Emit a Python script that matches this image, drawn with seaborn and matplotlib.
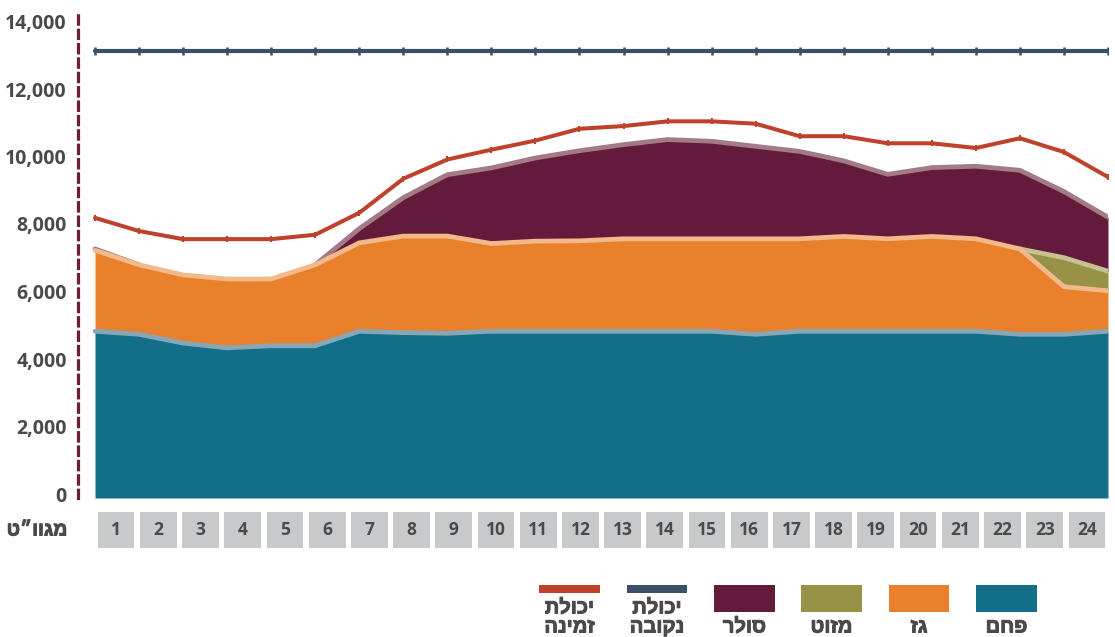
import numpy as np
import matplotlib
matplotlib.use("Agg")
import matplotlib.pyplot as plt
import matplotlib.transforms as mtransforms
import matplotlib.patheffects as pe
from matplotlib.patches import Rectangle
from matplotlib.ticker import FuncFormatter
import seaborn as sns

# ---------------- data ----------------
hours = list(range(1, 25))
coal = [4940, 4850, 4590, 4450, 4510, 4510, 4940, 4900, 4880, 4940, 4940, 4940,
        4940, 4940, 4940, 4850, 4940, 4940, 4940, 4940, 4940, 4850, 4850, 4940]
gas = [2400, 2060, 2020, 2040, 1980, 2400, 2620, 2860, 2880, 2600, 2670, 2680,
       2740, 2740, 2740, 2830, 2740, 2810, 2740, 2810, 2740, 2530, 1410, 1200]
mazut = [0, 0, 0, 0, 0, 0, 0, 0, 0, 0, 0, 0,
         0, 0, 0, 0, 0, 0, 0, 0, 0, 0, 860, 580]
soler = [40, 0, 0, 0, 0, 0, 420, 1140, 1820, 2240, 2465, 2670,
         2790, 2940, 2890, 2740, 2590, 2240, 1910, 2040, 2150, 2330, 1960, 1600]
available = [8300, 7910, 7670, 7670, 7670, 7800, 8450, 9460, 10030, 10320, 10590, 10940,
             11020, 11160, 11160, 11090, 10720, 10720, 10510, 10510, 10370, 10660, 10250, 9510]
rated = [13240] * 24

y_ticks = [0, 2000, 4000, 6000, 8000, 10000, 12000, 14000]
unit_label = 'מגוו״ט'
series_names = ['פחם', 'גז', 'מזוט', 'סולר']
line_names = ['יכולת נקובה', 'יכולת זמינה']

# ---------------- style ----------------
sns.set_theme(style="white")
plt.rcParams['font.family'] = ['Open Sans', 'DejaVu Sans']
plt.rcParams['font.weight'] = 'bold'
HEB = ['Liberation Sans', 'DejaVu Sans']

fill_colors = ['#126E89', '#E8802C', '#979245', '#641B3B']
edge_colors = ['#88A7B6', '#F3B98A', '#C7C292', '#A37B87']
red = '#BE412C'
blue = '#3A5068'
txt = '#4A4A4A'
box_gray = '#C8C9CB'
heb_fx = [pe.withStroke(linewidth=0.7, foreground=txt)]


def rtl(s):
    return s[::-1]


W, H = 1115, 637
fig = plt.figure(figsize=(W / 100, H / 100), dpi=100)

px_per_hour = (1108 - 95) / 23
x_left = 1 - (95 - 78) / px_per_hour
y0_px, ytop_px = 498, 13
px_per_unit = 33.75 / 1000
y_top = (y0_px - ytop_px) / px_per_unit

ax = fig.add_axes([78 / W, (H - y0_px) / H, (1108 - 78) / W, (y0_px - ytop_px) / H])

x = np.array(hours, dtype=float)
series = [np.array(coal, float), np.array(gas, float), np.array(mazut, float), np.array(soler, float)]
ax.stackplot(x, *series, colors=fill_colors, linewidth=0, zorder=1)

tops = []
cum = np.zeros_like(x)
for s in series:
    cum = cum + s
    valid = np.zeros(len(s), bool)
    for i in range(len(s)):
        lo, hi = max(0, i - 1), min(len(s), i + 2)
        valid[i] = (s[lo:hi] > 0).any()
    tops.append(np.where(valid, cum, np.nan))
# draw the upper strokes first so lower series' strokes sit on top
for top, ec in reversed(list(zip(tops, edge_colors))):
    ax.plot(x, top, color=ec, lw=3.4, solid_joinstyle='miter', zorder=2)

sns.lineplot(x=hours, y=rated, ax=ax, color=blue, lw=3.0, marker='|', markersize=6,
             markeredgewidth=1.8, markeredgecolor=blue, zorder=4)
sns.lineplot(x=hours, y=available, ax=ax, color=red, lw=2.9, marker='|', markersize=5,
             markeredgewidth=1.5, markeredgecolor=red, zorder=4)

ax.set_xlim(x_left, 24)
ax.set_ylim(0, y_top)
ax.set_xticks([])
ax.set_yticks(y_ticks)
ax.yaxis.set_major_formatter(FuncFormatter(lambda v, p: f"{int(v):,}"))
ax.tick_params(axis='y', length=0, pad=8, labelsize=14, labelcolor=txt)
for lab in ax.get_yticklabels():
    lab.set_fontweight('bold')
    lab.set_transform(lab.get_transform() + mtransforms.ScaledTranslation(0, 4 / 100, fig.dpi_scale_trans))
ax.set_xlabel('')
ax.set_ylabel('')
for side in ['top', 'right', 'bottom']:
    ax.spines[side].set_visible(False)
ax.spines['left'].set_color('#6B1E3A')
ax.spines['left'].set_linewidth(2.3)
ax.spines['left'].set_linestyle((0, (2.6, 1.9)))
ax.patch.set_alpha(0)

# hour boxes
axb = fig.add_axes([95 / W, (H - 548) / H, 1013 / W, 36 / H])
bx = np.array(hours) - 0.5
axb.bar(bx, 1, width=0.87, color=box_gray, linewidth=0)
for xi, h in zip(bx, hours):
    axb.text(xi, 0.5, str(h), ha='center', va='center', fontsize=12.5,
             fontweight='bold', color=txt)
axb.set_xlim(0, 24)
axb.set_ylim(0, 1)
axb.axis('off')

fig.text(37 / W, 1 - 531 / H, rtl(unit_label), ha='center', va='center',
         fontsize=14, fontweight='bold', color=txt, family=HEB, path_effects=heb_fx)

# legend
patch_specs = [(976, 1037), (889, 949), (801, 862), (714, 775)]
for (x1, x2), name, col in zip(patch_specs, series_names, fill_colors):
    fig.add_artist(Rectangle((x1 / W, 1 - 612 / H), (x2 - x1) / W, 27 / H,
                             transform=fig.transFigure, color=col, lw=0))
    fig.text((x1 + x2) / 2 / W, 1 - 627 / H, rtl(name), ha='center', va='center',
             fontsize=14.5, fontweight='bold', color=txt, family=HEB, path_effects=heb_fx)

line_specs = [(627, 687), (539, 600)]
for (x1, x2), name, col in zip(line_specs, line_names, [blue, red]):
    fig.add_artist(Rectangle((x1 / W, 1 - 593 / H), (x2 - x1) / W, 8 / H,
                             transform=fig.transFigure, color=col, lw=0))
    w1, w2 = name.split(' ')
    fig.text((x1 + x2) / 2 / W, 1 - 608 / H, rtl(w1), ha='center', va='center',
             fontsize=14.5, fontweight='bold', color=txt, family=HEB, path_effects=heb_fx)
    fig.text((x1 + x2) / 2 / W, 1 - 627 / H, rtl(w2), ha='center', va='center',
             fontsize=14.5, fontweight='bold', color=txt, family=HEB, path_effects=heb_fx)

fig.savefig('out.png', dpi=100)
